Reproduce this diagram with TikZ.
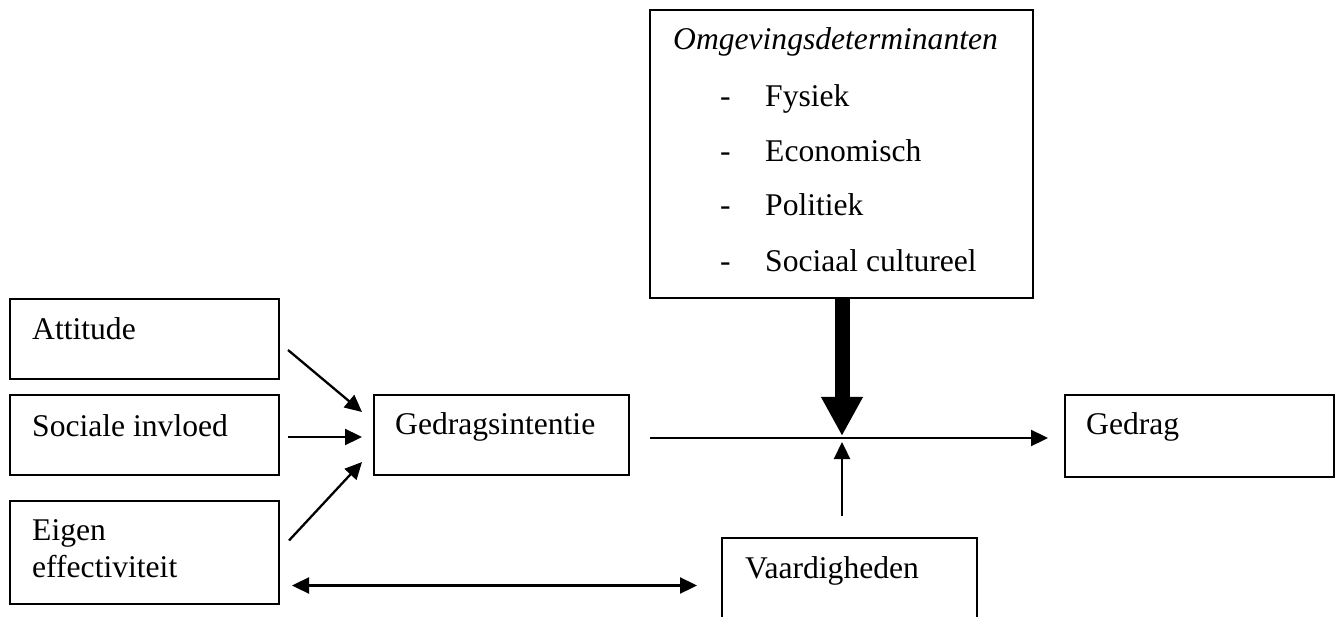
\documentclass[tikz,border=0pt]{standalone}
\usepackage{fontspec}
\setmainfont{Liberation Serif}
\usetikzlibrary{arrows.meta,calc}
\begin{document}
\begin{tikzpicture}[x=1pt,y=-1pt,
  box/.style={draw, line width=2.1pt, anchor=north west, inner sep=0pt, outer sep=0pt},
  txt/.style={anchor=base west, inner sep=0pt, font=\fontsize{31.6}{38}\selectfont},
  tip/.tip={Triangle[length=17pt 0 0, width=16pt 0 0]},
  arr/.style={line width=2.3pt, -tip},
  darr/.style={line width=2.3pt, tip-tip},
  big/.style={line width=15pt, -{Triangle[length=39pt 0 0, width=39pt 0 0]}}]
\clip (0,0) rectangle (1336,617);
\fill[white] (0,0) rectangle (1336,617);
% boxes
\node[box, minimum width=383, minimum height=288] (omg) at (650,10) {};
\node[box, minimum width=269, minimum height=80] (att) at (10,299) {};
\node[box, minimum width=269, minimum height=80] (soc) at (10,395) {};
\node[box, minimum width=269, minimum height=103] (eig) at (10,501) {};
\node[box, minimum width=255, minimum height=80] (gi) at (374,395) {};
\node[box, minimum width=269, minimum height=82] (ged) at (1065,395) {};
\node[box, minimum width=255, minimum height=82] (vaa) at (722,538) {};
% texts
\node[txt] (omgT) at (673,50) {\itshape Omgevingsdeterminanten};
\node[txt] (d1) at (720,107) {-};
\node[txt] (i1) at (765,107) {Fysiek};
\node[txt] (d2) at (720,162) {-};
\node[txt] (i2) at (765,162) {Economisch};
\node[txt] (d3) at (720,216) {-};
\node[txt] (i3) at (765,216) {Politiek};
\node[txt] (d4) at (720,272) {-};
\node[txt] (i4) at (765,272) {Sociaal cultureel};
\node[txt] (attT) at (32,340) {Attitude};
\node[txt] (socT) at (32,436) {Sociale invloed};
\node[txt] (eigT1) at (32,540) {Eigen};
\node[txt] (eigT2) at (32,577) {effectiviteit};
\node[txt] (giT) at (395,435) {Gedragsintentie};
\node[txt] (gedT) at (1086,435) {Gedrag};
\node[txt] (vaaT) at (745,578) {Vaardigheden};
% connector points
\coordinate (m) at (842,438);
\coordinate (hs) at (650,438);
\coordinate (he) at (1048,438);
% arrows
\draw[arr] ($(att.east)+(9,11)$) -- ($(gi.west)+(-12,-23)$);
\draw[arr] ($(soc.east)+(9,2)$) -- ($(gi.west)+(-12,2)$);
\draw[arr] ($(eig.east)+(10,-12)$) -- ($(gi.west)+(-12,27)$);
\draw[arr] (hs) -- (he);
\draw[big] (omg.south -| m) -- ($(m)+(0,-2)$);
\draw[arr] ($(vaa.north -| m)+(0,-22)$) -- ($(m)+(0,4)$);
\draw[darr] ($(eig.east)+(13,33)$) -- ($(vaa.west |- eig.east)+(-25,33)$);
\end{tikzpicture}
\end{document}
